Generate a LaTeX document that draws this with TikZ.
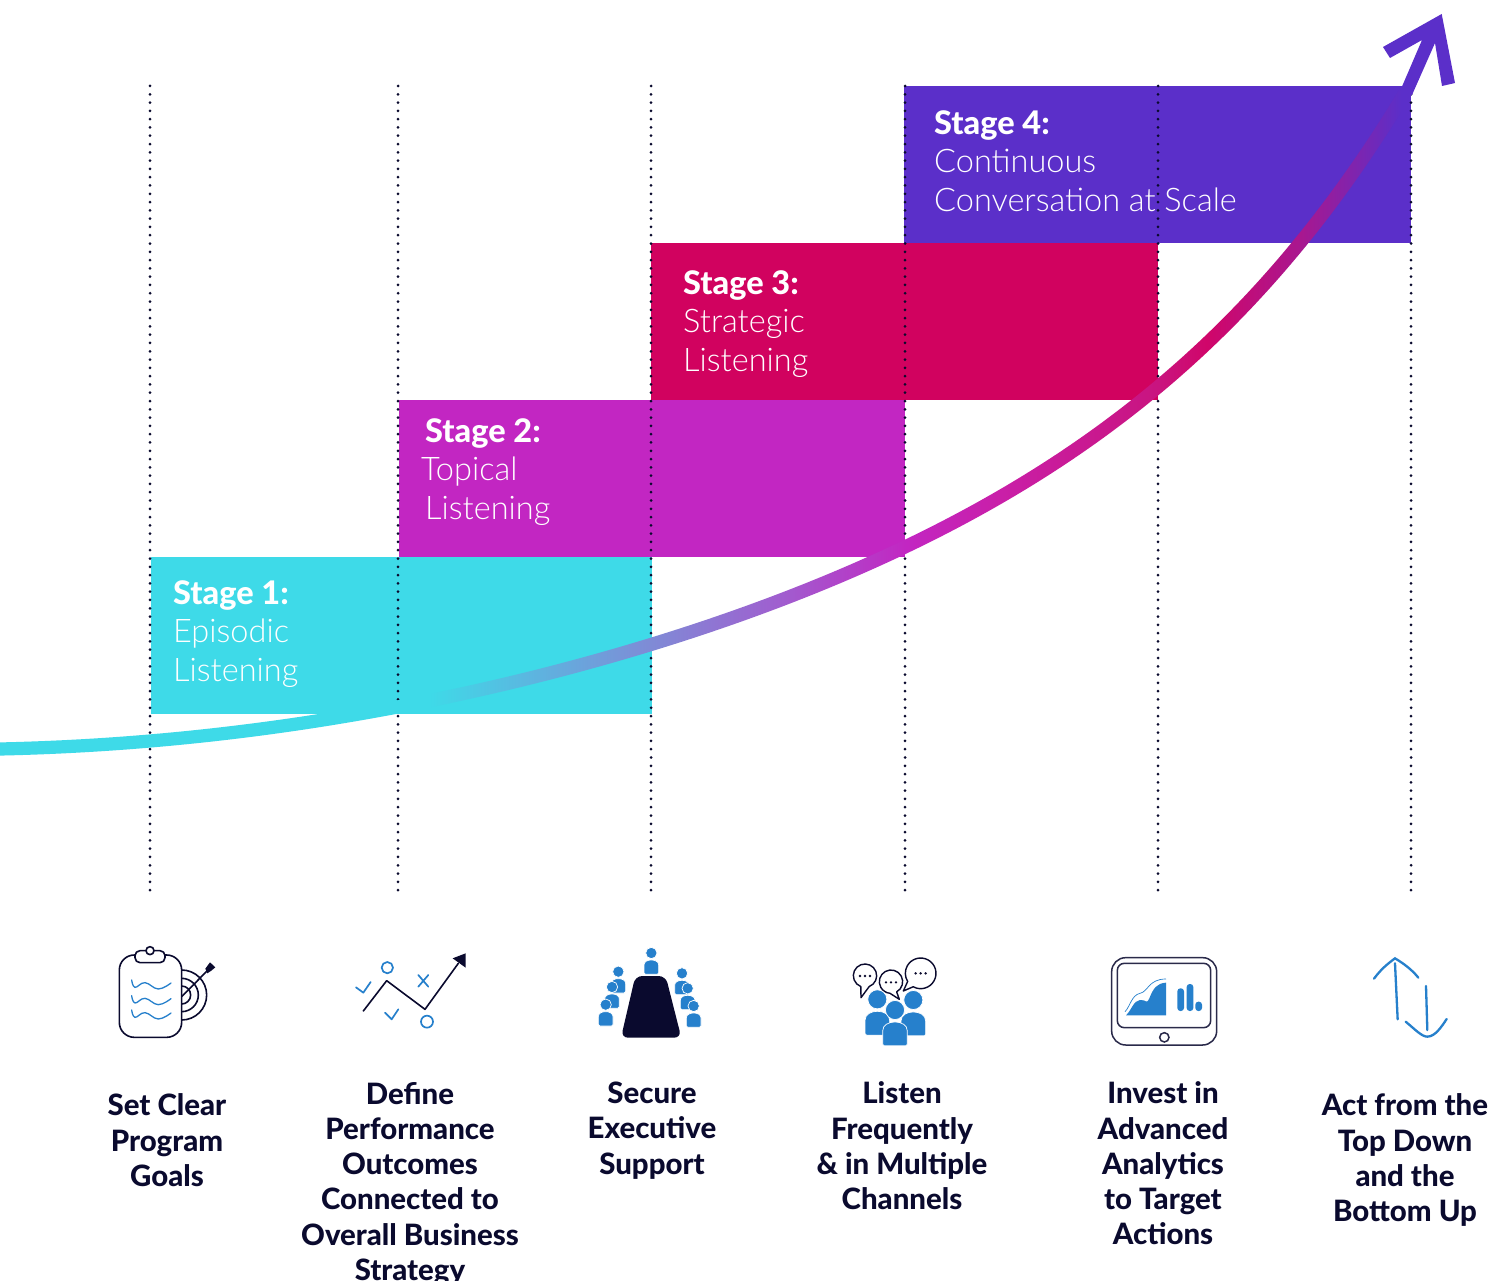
\documentclass[tikz,border=0pt]{standalone}
\usepackage{fontspec}
\setmainfont{Lato}
\newfontfamily\lightface{Lato Light}
\newfontfamily\heavyface{Lato Heavy}
\definecolor{cyanstage}{HTML}{3EDAE8}
\definecolor{magentastage}{HTML}{C226C2}
\definecolor{crimsonstage}{HTML}{D1025F}
\definecolor{purplestage}{HTML}{5B2FC9}
\definecolor{navyink}{HTML}{0A0A2E}
\definecolor{iconblue}{HTML}{2680CC}
\definecolor{slateink}{HTML}{2A2A4A}
\definecolor{gradmidA}{HTML}{7F8BD6}
\definecolor{gradmidB}{HTML}{A05ECF}
\definecolor{gradmidC}{HTML}{A9178F}
\definecolor{gradmidD}{HTML}{C91FA8}
\definecolor{gradmidE}{HTML}{C9147F}
\definecolor{gradmidF}{HTML}{D0066A}
\pgfdeclarehorizontalshading{curvegrad}{100bp}{
  color(0bp)=(cyanstage); color(40.2bp)=(cyanstage); color(48bp)=(gradmidA);
  color(52.6bp)=(gradmidB); color(57.1bp)=(magentastage); color(60.4bp)=(gradmidD);
  color(66bp)=(gradmidE); color(67.7bp)=(gradmidF);
  color(71bp)=(gradmidC); color(74.6bp)=(purplestage); color(100bp)=(purplestage)}
\tikzset{
  declare function={
    cu(\t)=\t/1158;
    hh(\t)=0.0217*\t+2.11*(\t/100)*(\t/100)+54*cu(\t)^7;
    hp(\t)=0.0217+0.0422*(\t/100)+0.3264*cu(\t)^6;
    wn(\t)=6.6/sqrt(1+hp(\t)*hp(\t));
  },
  stagetext/.style={anchor=north west,inner sep=0pt,align=left,text=white,font=\fontsize{32.5}{38.7}\selectfont\lightface},
  goaltext/.style={anchor=north,inner sep=0pt,align=center,text=navyink,font=\fontsize{29.4}{35.25}\selectfont\heavyface},
  guideline/.style={navyink,line width=3pt,line cap=round,dash pattern=on 0pt off 8.29pt},
  zoomed/.style={x=0.33333pt,y=-0.33333pt,shift={(#1)}},
  inkline/.style={navyink,line width=1.6pt,line cap=round,line join=round},
  blueline/.style={iconblue,line width=1.7pt,line cap=round,line join=round},
  bubble/.style={navyink,line width=1.4pt,fill=white,line join=round},
  person/.pic={
    \fill[iconblue,draw=white,line width=0.7pt] (0,0) circle[radius=17];
    \fill[iconblue,draw=white,line width=0.7pt,rounded corners=1.5pt] (-22,64) -- (-22,40) .. controls (-22,16) and (22,16) .. (22,40) -- (22,64) -- cycle;
  }
}
\begin{document}
\begin{tikzpicture}[x=1pt,y=-1pt]
\useasboundingbox (0,0) rectangle (1489,1281);
\fill[white] (0,0) rectangle (1489,1281);
% stage blocks
\fill[cyanstage] (151,557) rectangle (652,714);
\fill[magentastage] (399,400) rectangle (905,557);
\fill[crimsonstage] (651,243) rectangle (1158,400);
\fill[purplestage] (904,86) rectangle (1411,243);
% guides
\foreach \gx in {150,398,651,905,1158,1411}
  \draw[guideline] (\gx,86) -- (\gx,891);
% rising curve
\shade[shading=curvegrad]
  plot[domain=0:1407,samples=90,smooth] ({\x-wn(\x)*hp(\x)},{749-hh(\x)-wn(\x)})
  -- plot[domain=1407:0,samples=90,smooth] ({\x+wn(\x)*hp(\x)},{749-hh(\x)+wn(\x)})
  -- cycle;
% arrow head
\fill[purplestage] (1441.7,14) -- (1455,83) -- (1442,86) -- (1435,43) -- (1412,95) -- (1400.5,90) -- (1422,40) -- (1390,58) -- (1383,47) -- cycle;
% stage labels
\node[stagetext] (s1) at (173,580) {{\heavyface Stage 1:}\\Episodic\\Listening};
\node[stagetext] (s2) at (425,418) {{\heavyface Stage 2:}\\\hspace*{-4pt}Topical\\Listening};
\node[stagetext] (s3) at (683,270) {{\heavyface Stage 3:}\\Strategic\\Listening};
\node[stagetext] (s4) at (934,110) {{\heavyface Stage 4:}\\Continuous\\Conversation at Scale};
% goal labels
\node[goaltext] (g1) at (167,1093.8) {Set Clear\\Program\\Goals};
\node[goaltext] (g2) at (410,1081.8) {Define\\Performance\\Outcomes\\Connected to\\Overall Business\\Strategy};
\node[goaltext] (g3) at (652,1081.8) {Secure\\Executive\\Support};
\node[goaltext] (g4) at (902,1081.8) {Listen\\Frequently\\\& in Multiple\\Channels};
\node[goaltext] (g5) at (1163,1081.8) {Invest in\\Advanced\\Analytics\\to Target\\Actions};
\node[goaltext] (g6) at (1405,1093.8) {Act from the\\Top Down\\and the\\Bottom Up};
% icon 1 and 2
\begin{scope}[zoomed={90pt,-930pt}]
  \draw[inkline] (275,120) arc[start angle=-90,end angle=90,radius=75];
  \draw[inkline] (275,145) arc[start angle=-90,end angle=90,radius=50];
  \draw[inkline] (275,168) arc[start angle=-90,end angle=90,radius=27];
  \draw[inkline] (275,200) -- (352,122);
  \fill[navyink] (360,97) -- (376,112) -- (364,122) -- (352,130) -- (346,116) -- cycle;
  \draw[inkline,fill=white,rounded corners=15pt] (88,75) rectangle (275,322);
  \draw[inkline,fill=white,rounded corners=5pt] (135,62) rectangle (225,98);
  \draw[inkline,fill=white] (180,62) circle[radius=12];
  \foreach \wy in {150,197,240}
    \draw[iconblue,line width=1.3pt,line cap=round] plot[smooth,tension=0.7] coordinates {(125,\wy) (135,\wy+22) (165,\wy+8) (205,\wy+27) (243,\wy+9)};
  \draw[inkline] (820,243) -- (890,152) -- (1005,238) -- (1105,100);
  \fill[navyink] (1088,85) -- (1127,70) -- (1127,113) -- cycle;
  \draw[blueline] (892,113) circle[radius=17];
  \draw[blueline] (1011,275) circle[radius=18];
  \draw[blueline] (798,172) -- (820,188) -- (842,156);
  \draw[blueline] (885,248) -- (905,268) -- (925,238);
  \draw[blueline] (985,135) -- (1015,170) (1015,135) -- (985,170);
\end{scope}
% icon 3 and 4
\begin{scope}[zoomed={580pt,-930pt}]
  \fill[navyink,rounded corners=7pt] (166,138) -- (257,138) -- (304,323) -- (123,323) -- cycle;
  \pic at (214,69) {person};
  \pic at (115,125) {person};
  \pic at (96,171) {person};
  \pic at (77,224) {person};
  \pic at (306,130) {person};
  \pic at (323,175) {person};
  \pic at (341,228) {person};
  \draw[bubble] (855,137) ++(69:35) arc[start angle=69,end angle=-249,radius=35] -- (843,203) -- cycle;
  \draw[bubble] (1022,130) ++(119:46) arc[start angle=119,end angle=-212,radius=46] -- (970,183) -- cycle;
  \draw[bubble] (933,155) ++(61:35) arc[start angle=61,end angle=-265,radius=35] -- (958,208) -- cycle;
  \foreach \dx in {-15,0,15} {
    \fill[navyink] (855+\dx,138) circle[radius=4];
    \fill[navyink] (933+\dx,157) circle[radius=4];
    \fill[navyink] (1022+\dx,130) circle[radius=4];
  }
  \pic[scale=1.68] at (892,208) {person};
  \pic[scale=1.68] at (1000,210) {person};
  \pic[scale=1.68] at (945,240) {person};
\end{scope}
% icon 5 and 6
\begin{scope}[zoomed={1090pt,-930pt}]
  \draw[slateink,line width=1.5pt,rounded corners=14pt] (65,83) rectangle (380,345);
  \draw[slateink,line width=1.5pt,rounded corners=7pt] (82,100) rectangle (362,293);
  \draw[slateink,line width=1.5pt] (223,322) circle[radius=14];
  \fill[iconblue] (108,256) .. controls (125,240) and (130,212) .. (150,210) .. controls (170,208) and (168,225) .. (178,205) .. controls (190,175) and (200,160) .. (228,158) -- (228,256) -- cycle;
  \draw[iconblue,line width=0.7pt] (105,245) .. controls (120,230) and (125,195) .. (150,190) .. controls (175,185) and (175,147) .. (228,147);
  \fill[iconblue,rounded corners=3pt] (262,175) rectangle (282,243);
  \fill[iconblue,rounded corners=3pt] (290,162) rectangle (310,243);
  \fill[iconblue,rounded corners=3pt] (316,215) rectangle (336,243);
  \draw[iconblue,line width=2.3pt,line cap=round] (915,100) -- (923,268);
  \draw[iconblue,line width=2.3pt,line cap=round] (852,146) .. controls (875,115) and (895,100) .. (915,85) .. controls (940,100) and (965,118) .. (985,143);
  \draw[iconblue,line width=2.3pt,line cap=round] (1008,168) -- (1012,300);
  \draw[iconblue,line width=2.3pt,line cap=round] (947,275) .. controls (975,298) and (995,320) .. (1012,320) .. controls (1035,320) and (1055,290) .. (1070,267);
\end{scope}
\end{tikzpicture}
\end{document}
